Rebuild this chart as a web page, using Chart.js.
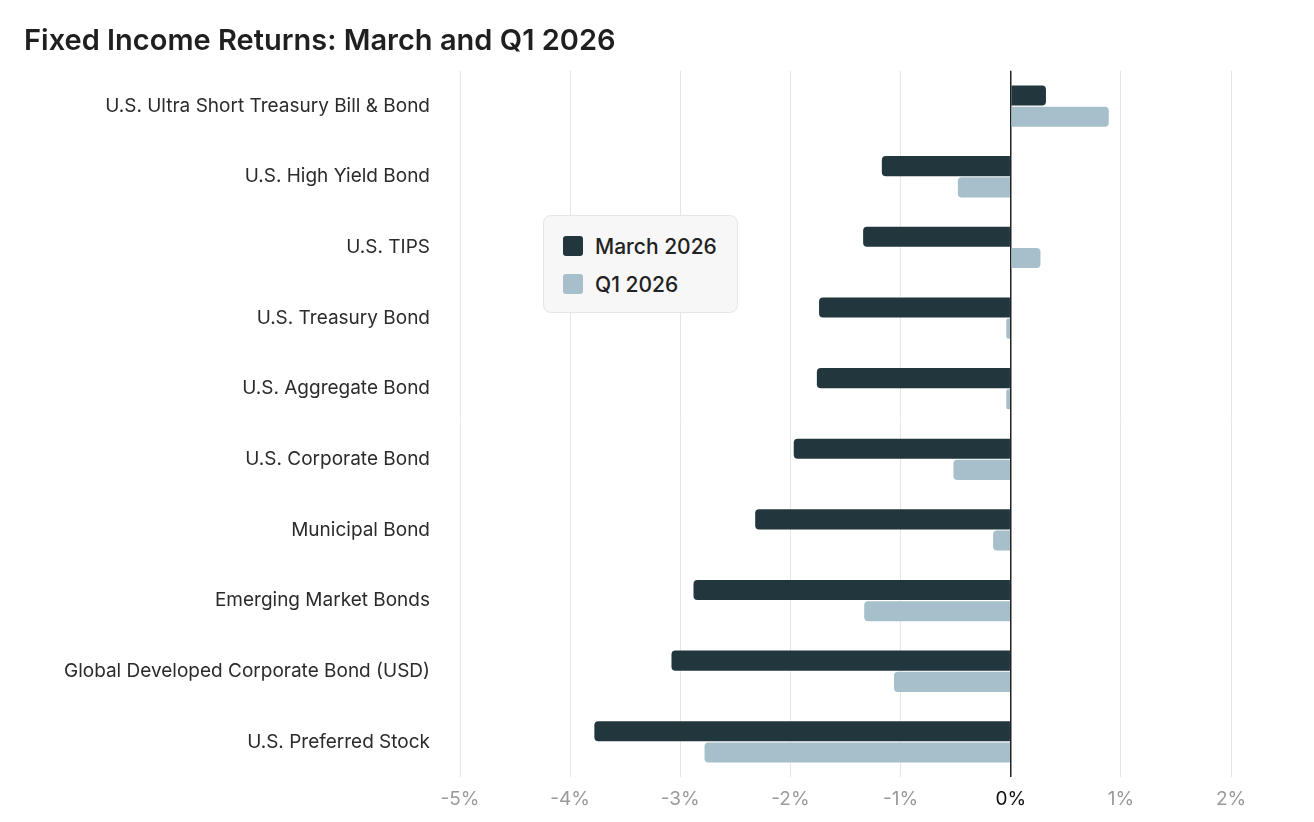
<!DOCTYPE html>
<html>
<head>
<meta charset="utf-8">
<script src="https://cdn.jsdelivr.net/npm/chart.js@4"></script>
<style>
  html, body { margin: 0; padding: 0; background: #fff; }
  #wrap { position: relative; width: 1314px; height: 822px; }
  #legend {
    position: absolute; left: 543px; top: 215px; width: 195px; height: 98px;
    box-sizing: border-box; background: #f7f7f7; border: 1px solid #e6e6e6;
    border-radius: 8px; padding: 20px 0 0 19px;
    font-family: Inter, sans-serif; font-size: 21px; color: #222; font-weight: 500;
  }
  .item { display: flex; align-items: center; height: 20px; margin-bottom: 18px; }
  .swatch { width: 20px; height: 20px; border-radius: 3px; margin-right: 12px; }
</style>
</head>
<body>
<div id="wrap">
  <canvas id="returnsChart" width="1314" height="822"></canvas>
  <div id="legend"></div>
</div>
<script>
const categories = [
    'U.S. Ultra Short Treasury Bill & Bond',
    'U.S. High Yield Bond',
    'U.S. TIPS',
    'U.S. Treasury Bond',
    'U.S. Aggregate Bond',
    'U.S. Corporate Bond',
    'Municipal Bond',
    'Emerging Market Bonds',
    'Global Developed Corporate Bond (USD)',
    'U.S. Preferred Stock'
];
const march2026 = [0.32, -1.17, -1.34, -1.74, -1.76, -1.97, -2.32, -2.88, -3.08, -3.78];
const q12026 = [0.89, -0.48, 0.27, -0.04, -0.04, -0.52, -0.16, -1.33, -1.06, -2.78];
const seriesNames = ['March 2026', 'Q1 2026'];
const seriesColors = ['#21373d', '#a6bfca'];
const xTicks = [-5, -4, -3, -2, -1, 0, 1, 2];

const ctx = document.getElementById('returnsChart').getContext('2d');
const returnsChart = new Chart(ctx, {
    type: 'bar',
    data: {
        labels: categories,
        datasets: [march2026, q12026].map(function (values, i) {
            return {
                label: seriesNames[i],
                data: values,
                backgroundColor: seriesColors[i],
                borderRadius: 4,
                categoryPercentage: 0.6,
                barPercentage: 0.95
            };
        })
    },
    options: {
        indexAxis: 'y',
        responsive: false,
        animation: false,
        layout: { padding: { left: 24, right: 83, top: 0, bottom: 0 } },
        plugins: {
            legend: { display: false },
            tooltip: { enabled: false },
            title: {
                display: true,
                text: 'Fixed Income Returns: March and Q1 2026',
                align: 'start',
                color: '#1f1f1f',
                font: { family: 'Inter', size: 29, weight: '600' },
                padding: { top: 24, bottom: 12 }
            }
        },
        scales: {
            x: {
                min: -5,
                max: 2,
                afterBuildTicks: function (scale) {
                    scale.ticks = xTicks.map(function (v) { return { value: v }; });
                },
                border: { display: false },
                grid: {
                    color: function (c) { return c.tick && c.tick.value === 0 ? '#222222' : '#e6e6e6'; },
                    lineWidth: function (c) { return c.tick && c.tick.value === 0 ? 1.5 : 1; },
                    drawTicks: false
                },
                ticks: {
                    padding: 11,
                    color: function (c) { return c.tick.value === 0 ? '#111111' : '#9a9a9a'; },
                    font: { family: 'Inter', size: 19 },
                    callback: function (v) { return v + '%'; }
                }
            },
            y: {
                afterFit: function (scale) { scale.width = 436; },
                border: { display: false },
                grid: { display: false, drawTicks: false },
                ticks: {
                    padding: 30,
                    color: '#2b2b2b',
                    font: { family: 'Inter', size: 19 }
                }
            }
        }
    }
});

const legendEl = document.getElementById('legend');
returnsChart.data.datasets.forEach(function (ds) {
    const item = document.createElement('div');
    item.className = 'item';
    const sw = document.createElement('span');
    sw.className = 'swatch';
    sw.style.background = ds.backgroundColor;
    const label = document.createElement('span');
    label.textContent = ds.label;
    item.appendChild(sw);
    item.appendChild(label);
    legendEl.appendChild(item);
});
</script>
</body>
</html>
